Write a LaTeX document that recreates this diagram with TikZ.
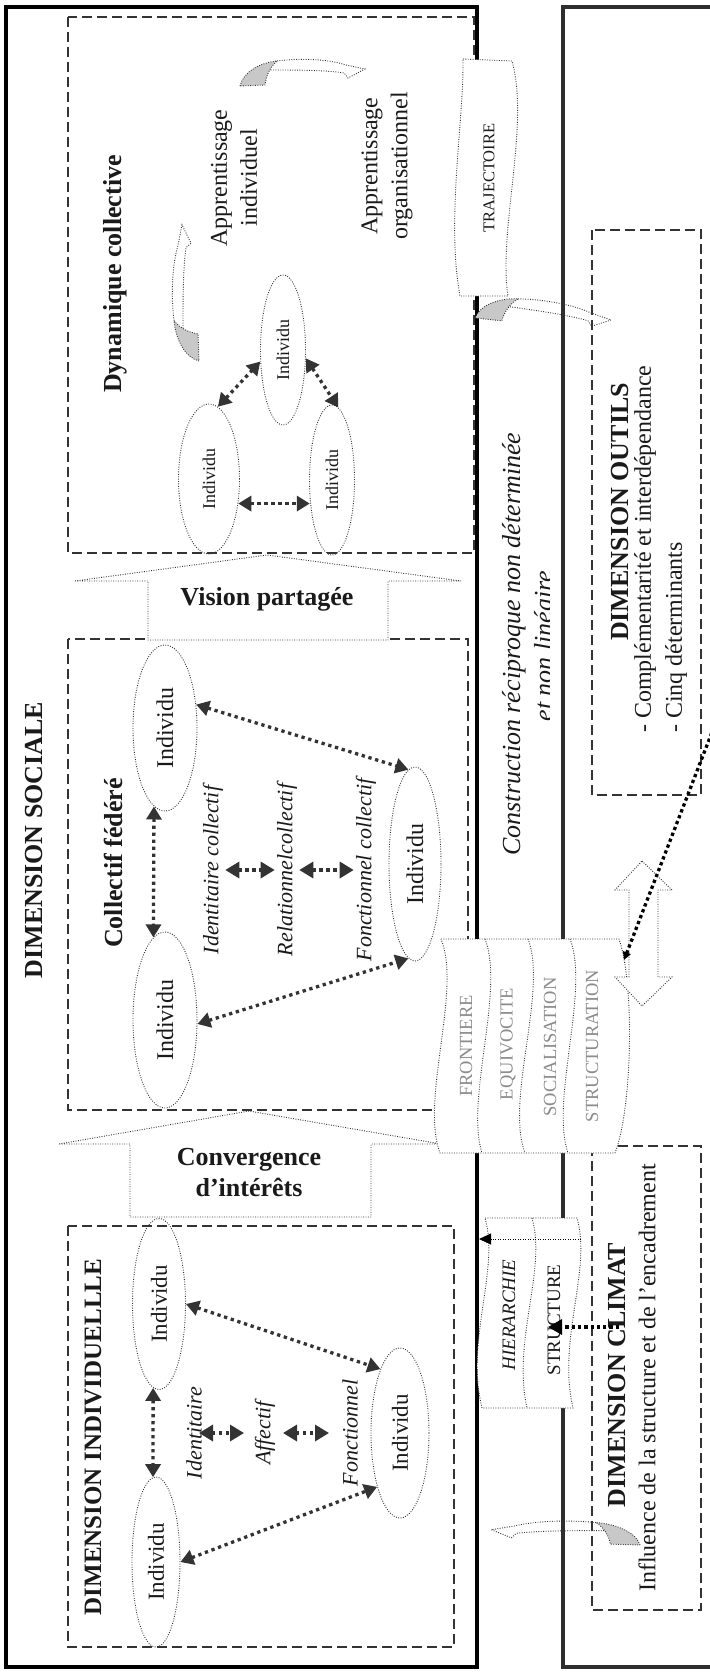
\documentclass[tikz,border=0pt]{standalone}
\usepackage{fontspec}
\setmainfont{Liberation Serif}
\usetikzlibrary{arrows.meta,shapes.geometric}
\definecolor{ink}{HTML}{1A1A1A}
\definecolor{lineg}{HTML}{333333}
\definecolor{frameg}{HTML}{2E2E2E}
\definecolor{ribgray}{HTML}{C8C8C8}
\definecolor{softtext}{HTML}{8C8C8C}

\tikzset{
  frameline/.style={line width=4.5pt},
  dashbox/.style={draw=lineg, line width=1.2pt, dash pattern=on 10pt off 5pt},
  thindot/.style={draw=lineg, line width=0.9pt, dash pattern=on 0.9pt off 1.5pt},
  indiv/.style={ellipse, thindot, inner sep=0pt, text=ink},
  boldtxt/.style={font=\fontsize{26}{31}\selectfont\bfseries, text=ink, inner sep=0pt, align=center},
  plaintxt/.style={font=\fontsize{24}{30}\selectfont, text=ink, inner sep=0pt, align=center},
  ittxt/.style={font=\fontsize{22}{26}\selectfont\itshape, text=ink, inner sep=2pt},
  bandtxt/.style={font=\fontsize{18.5}{22}\selectfont, text=softtext, inner sep=0pt},
  link/.style={draw=lineg, line width=3.3pt, dash pattern=on 3.3pt off 3.7pt,
    {Triangle[length=13pt,width=15pt]}-{Triangle[length=13pt,width=15pt]}, color=lineg},
  shortlink/.style={draw=lineg, line width=3.3pt, dash pattern=on 3.3pt off 3.7pt,
    {Triangle[length=14pt,width=16pt]}-{Triangle[length=14pt,width=16pt]}, color=lineg},
  pushlink/.style={draw=black, line width=3.3pt, dash pattern=on 3.3pt off 3pt,
    -{Triangle[length=14pt,width=15pt]}},
  thinlink/.style={draw=black, line width=1pt, dash pattern=on 1pt off 1.5pt,
    -{Triangle[length=12pt,width=11pt]}},
  blockarrow/.style={thindot, fill=white},
}

% curved ribbon arrow: shaded fold at the origin, head to the right
\newcommand\ribbonarrow{%
  \fill[ribgray] (0,0) .. controls (3,-13) and (18,-23) .. (37,-25)
     .. controls (30,-19) and (26,-10) .. (25,-1) -- cycle;
  \draw[thindot] (37,-25) .. controls (60,-28) and (88,-27) .. (106,-21)
     -- (125,-17) -- (108,-8) -- (104,-13)
     .. controls (85,-16) and (55,-16) .. (29,-16);
  \draw[thindot] (0,0) .. controls (3,-13) and (18,-23) .. (37,-25)
     .. controls (30,-19) and (26,-10) .. (25,-1) -- cycle;
}

\begin{document}
\begin{tikzpicture}[x=1pt,y=-1pt]
\useasboundingbox (0,0) rectangle (709,1672);
\fill[white] (0,0) rectangle (709,1672);

% ---------- outer frames ----------
\draw[frameline] (6,7) rectangle (477,1667);
\draw[frameline, draw=frameg] (716,7) -- (563,7) -- (563,1667) -- (716,1667);

% ---------- dashed boxes ----------
\draw[dashbox] (68,17) rectangle (474,553);
\draw[dashbox] (68,639) rectangle (468,1110);
\draw[dashbox] (68,1226) rectangle (454,1647);
\draw[dashbox] (592,230) rectangle (701,795);
\draw[dashbox] (592,1146) rectangle (701,1610);

% ---------- block arrows between levels ----------
\draw[blockarrow] (75,581) -- (267,555) -- (461,581) -- (388,581) -- (388,640)
   -- (148,640) -- (148,581) -- cycle;
\node[boldtxt] (vision) at (267,599) {Vision partagée};
\draw[blockarrow] (59,1144) -- (249,1111) -- (441,1144) -- (371,1144) -- (371,1217)
   -- (130,1217) -- (130,1144) -- cycle;
\node[boldtxt] (converg) at (249,1173) {Convergence\\d’intérêts};

% ---------- Dynamique collective ----------
\node[boldtxt, rotate=90] (dyn) at (115,274) {Dynamique collective};
\node[plaintxt, rotate=90] (appind) at (234,178) {Apprentissage\\individuel};
\node[plaintxt, rotate=90] (apporg) at (387,166) {Apprentissage\\organisationnel};
\begin{scope}[font=\fontsize{18}{20}\selectfont]
\node[indiv, minimum width=61, minimum height=150] (dcA) at (209,479) {\rotatebox{90}{Individu}};
\node[indiv, minimum width=45, minimum height=150] (dcB) at (283,350) {\rotatebox{90}{Individu}};
\node[indiv, minimum width=45, minimum height=150] (dcC) at (332,480) {\rotatebox{90}{Individu}};
\end{scope}
\draw[link] (dcA.-40) -- (dcC.-140 |- dcA.-40);
\draw[link] (dcA.83) -- (dcB.207);
\draw[link] (dcB.-20) -- (dcC.85);

\begin{scope}[shift={(240,86)}] \ribbonarrow \end{scope}
\begin{scope}[shift={(199,361)}, rotate=90, xscale=1.09] \ribbonarrow \end{scope}

% ---------- Collectif fédéré ----------
\node[boldtxt, rotate=90] (social) at (34,840) {DIMENSION SOCIALE};
\node[boldtxt, rotate=90] (collectif) at (113,863) {Collectif fédéré};
\begin{scope}[font=\fontsize{24}{26}\selectfont]
\node[indiv, minimum width=64, minimum height=166] (cfD) at (165,728) {\rotatebox{90}{Individu}};
\node[indiv, minimum width=64, minimum height=176] (cfE) at (165,1020) {\rotatebox{90}{Individu}};
\node[indiv, minimum width=52, minimum height=194] (cfF) at (415,864) {\rotatebox{90}{Individu}};
\end{scope}
\node[ittxt, rotate=90] (idc) at (213,870) {Identitaire collectif};
\node[ittxt, rotate=90] (relc) at (287,870) {Relationnelcollectif};
\node[ittxt, rotate=90] (fonc) at (366,870) {Fonctionnel collectif};
\draw[link] (cfD.262) -- (cfE.98);
\draw[link] (cfD.37) -- (cfF.94);
\draw[link] (cfE.-7) -- (cfF.-94);
\draw[shortlink] (idc.south) -- (relc.north);
\draw[shortlink] (relc.south) -- (fonc.north);

% ---------- Dimension individuelle ----------
\node[boldtxt, rotate=90, font=\fontsize{25}{30}\selectfont\bfseries] (indivdim) at (93,1437) {DIMENSION INDIVIDUELLLE};
\begin{scope}[font=\fontsize{23}{25}\selectfont]
\node[indiv, minimum width=53, minimum height=171] (diG) at (159,1304) {\rotatebox{90}{Individu}};
\node[indiv, minimum width=48, minimum height=170] (diH) at (156,1562) {\rotatebox{90}{Individu}};
\node[indiv, minimum width=58, minimum height=170] (diI) at (400,1433) {\rotatebox{90}{Individu}};
\end{scope}
\node[ittxt, rotate=90] (idt) at (194,1433) {Identitaire};
\node[ittxt, rotate=90] (aff) at (265,1433) {Affectif};
\node[ittxt, rotate=90] (fon) at (350,1433) {Fonctionnel};
\draw[link] (diG.266) -- (diH.92);
\draw[link] (diG.0) -- (diI.107);
\draw[link] (diH.0) -- (diI.247);
\draw[shortlink] ([xshift=5pt]idt.center) -- ([xshift=-21pt]aff.center);
\draw[shortlink] ([xshift=18pt]aff.center) -- ([xshift=-21pt]fon.center);

% ---------- central corridor ----------
\node[font=\fontsize{26}{30}\selectfont\itshape, text=ink, rotate=90, anchor=base, inner sep=0pt]
  (constr) at (520,644) {Construction réciproque non déterminée};
\begin{scope}
\clip (480,0) rectangle (549,1672);
\node[font=\fontsize{26}{30}\selectfont\itshape, text=ink, rotate=90, anchor=base, inner sep=0pt]
  (lineaire) at (552,646) {et non linéaire};
\end{scope}

% TRAJECTOIRE banner
\draw[thindot, fill=white] (463,59) -- (512,61) .. controls (530,125) and (498,230) .. (508,296)
  -- (460,296) .. controls (446,220) and (464,120) .. (463,59) -- cycle;
\node[font=\fontsize{16.5}{18}\selectfont, text=ink, rotate=90, inner sep=0pt] (traj) at (489,178) {TRAJECTOIRE};
\begin{scope}[shift={(475,318)}, rotate=-8, xscale=1.08] \ribbonarrow \end{scope}

% four-strip banner
\draw[thindot, fill=white] (441,939) -- (619,939) .. controls (635,985) and (632,1110) .. (615,1153)
  -- (440,1153) .. controls (420,1100) and (462,990) .. (441,939) -- cycle;
\draw[thindot] (485,939) .. controls (505,990) and (465,1100) .. (482,1153);
\draw[thindot] (528,939) .. controls (548,990) and (505,1100) .. (525,1153);
\draw[thindot] (570,939) .. controls (590,990) and (550,1100) .. (568,1153);
\node[bandtxt, rotate=90] (fron) at (466,1046) {FRONTIERE};
\node[bandtxt, rotate=90] (equi) at (508,1044) {EQUIVOCITE};
\node[bandtxt, rotate=90] (soci) at (550,1047) {SOCIALISATION};
\node[bandtxt, rotate=90] (struc) at (592,1046) {STRUCTURATION};

% double block arrow
\draw[blockarrow] (642,861) -- (672,890) -- (658,890) -- (658,977) -- (672,977) -- (642,1006)
  -- (615,977) -- (629,977) -- (629,890) -- (615,890) -- cycle;

% HIERARCHIE / STRUCTURE banner
\draw[thindot, fill=white] (485,1218) -- (577,1218) .. controls (592,1270) and (557,1340) .. (573,1408)
  -- (482,1408) .. controls (465,1340) and (500,1270) .. (485,1218) -- cycle;
\draw[thindot] (532,1218) .. controls (547,1270) and (512,1340) .. (527,1408);
\node[font=\fontsize{19}{21}\selectfont\itshape, text=ink, rotate=90, inner sep=0pt] (hier) at (509,1315) {HIERARCHIE};
\node[font=\fontsize{19}{21}\selectfont, text=ink, rotate=90, inner sep=0pt] (structure) at (554,1320) {STRUCTURE};
\coordinate (hierR) at (581,1239);
\coordinate (hierL) at (479,1239);
\draw[thinlink] (hierR) -- (hierL);

% ---------- Dimension outils ----------
\node[boldtxt, rotate=90] (outils) at (620,512) {DIMENSION OUTILS};
\node[plaintxt, rotate=90, anchor=west] (out1) at (645,733) {- Complémentarité et interdépendance};
\node[plaintxt, rotate=90, anchor=west] (out2) at (676,733) {- Cinq déterminants};
\coordinate (outEdge) at (714,727);
\coordinate (strucEdge) at (624,960);
\draw[draw=black, line width=3.3pt, dash pattern=on 3.3pt off 3pt, -{Triangle[length=8pt,width=8pt]}]
  (outEdge) -- (strucEdge);

% ---------- Dimension climat ----------
\node[boldtxt, rotate=90] (climat) at (617,1375) {DIMENSION CLIMAT};
\node[plaintxt, rotate=90] (influ) at (647,1378) {Influence de la structure et de l’encadrement};
\coordinate (climSrc) at (619,1327);
\coordinate (structDst) at (548,1327);
\draw[pushlink] (climSrc) -- (structDst);
\begin{scope}[shift={(640,1545)}, xscale=-1.19, yscale=0.9] \ribbonarrow \end{scope}

\end{tikzpicture}
\end{document}
